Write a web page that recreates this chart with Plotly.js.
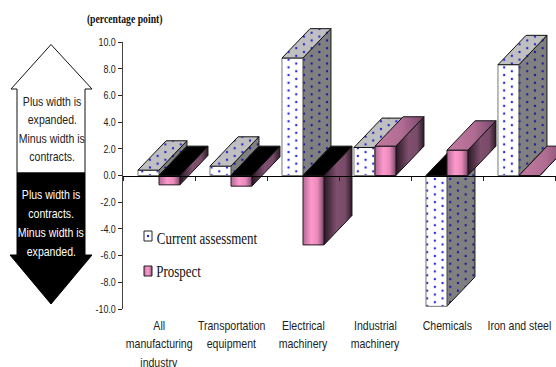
<!DOCTYPE html>
<html>
<head>
<meta charset="utf-8">
<script src="https://cdn.plot.ly/plotly-3.0.1.min.js"></script>
<style>html,body{margin:0;padding:0;background:#fff}#chart{width:556px;height:367px}</style>
</head>
<body>
<div id="chart"></div>
<script>
// Percentage-point widths by industry
const categoryLines = [
  ["All", "manufacturing", "industry"],
  ["Transportation", "equipment"],
  ["Electrical", "machinery"],
  ["Industrial", "machinery"],
  ["Chemicals"],
  ["Iron and steel"]
];
const currentAssessment = [0.4, 0.7, 8.8, 2.1, -9.8, 8.3];
const prospect = [-0.7, -0.8, -5.2, 2.2, 1.9, 0.0];
const yTickValues = [10, 8, 6, 4, 2, 0, -2, -4, -6, -8, -10];
const yTickLabels = ["10.0", "8.0", "6.0", "4.0", "2.0", "0.0", "-2.0", "-4.0", "-6.0", "-8.0", "-10.0"];
const upArrowLines = ["Plus width is", "expanded.", "Minus width is", "contracts."];
const downArrowLines = ["Plus width is", "contracts.", "Minus width is", "expanded."];

// Drawing frame in page pixels; the labelled axis spans AXIS_TOP..B, bars may rise above it
const W = 556, H = 367, L = 123, R = 556, AXIS_TOP = 42, B = 309;
const unitX = 72, unitY = (B - AXIS_TOP) / 20;
const fx = px => (px - L) / (R - L);
const fy = px => (B - px) / B;
const dataX = px => (px - L) / unitX;
const dataY = px => (B - px) / unitY - 10;

// Oblique projection of the bar depth, and the bar width, in axis units
const barW = 0.29, depthX = 0.39, depthY = 2.2;

const SANS = '"Liberation Sans",Arial,sans-serif';
const SERIF = '"Liberation Serif","Times New Roman",serif';

const dots = (bg, fg) => ({shape: '.', bgcolor: bg, fgcolor: fg, size: 8, solidity: 0.08, fgopacity: 1});
const styles = {
  current: {
    front: {fillcolor: '#fff', fillpattern: dots('#ffffff', '#2a2ae6')},
    side: {fillcolor: '#808080', fillpattern: dots('#808080', '#1c1c9a')},
    top: {fillcolor: '#c0c0c0', fillpattern: dots('#c0c0c0', '#2a2ad0')},
    edge: '#111', frontEdge: '#777'
  },
  prospect: {
    front: {fillgradient: {type: 'horizontal', colorscale: [[0, '#b06a95'], [0.4, '#ff99cc'], [0.7, '#e88ab9'], [1, '#7c4a6a']]}},
    side: {fillgradient: {type: 'horizontal', colorscale: [[0, '#2a1824'], [0.45, '#7f4f6e'], [0.75, '#7a4c69'], [1, '#2e1c28']]}},
    top: {fillgradient: {type: 'horizontal', colorscale: [[0, '#c47a9f'], [0.55, '#b06c93'], [1, '#76466a']]}},
    edge: '#111', frontEdge: '#2a1824'
  }
};

const traces = [];
function face(xs, ys, style, edge, name) {
  traces.push(Object.assign({
    type: 'scatter', mode: 'lines', x: xs.concat(xs[0]), y: ys.concat(ys[0]),
    fill: 'toself', line: {color: edge, width: 1}, hoverinfo: 'skip', showlegend: false, name: name
  }, style));
}
function bar(x0, v, st, name) {
  const x1 = x0 + barW, topY = Math.max(v, 0);
  face([x1, x1 + depthX, x1 + depthX, x1], [0, depthY, v + depthY, v], st.side, st.edge, name);
  if (v !== 0) face([x0, x1, x1, x0], [0, 0, v, v], st.front, st.frontEdge, name);
  const topStyle = v < 0 ? {fillcolor: '#000'} : st.top;
  face([x0, x1, x1 + depthX, x0 + depthX], [topY, topY, topY + depthY, topY + depthY], topStyle, st.edge, name);
}
currentAssessment.forEach((v, i) => {
  bar(i + 0.208, v, styles.current, 'Current assessment');
  bar(i + 0.5, prospect[i], styles.prospect, 'Prospect');
});

// Key swatches
function swatch(x0, x1, y0, y1, style, name) {
  face([dataX(x0), dataX(x1), dataX(x1), dataX(x0)], [dataY(y0), dataY(y0), dataY(y1), dataY(y1)], style, '#222', name);
}
swatch(144, 152, 231, 241, {fillcolor: '#fff'}, 'Current assessment');
traces.push({type: 'scatter', mode: 'markers', x: [dataX(148)], y: [dataY(236)], hoverinfo: 'skip', showlegend: false,
  marker: {size: 2.5, color: '#2a2ae0'}, name: 'Current assessment'});
swatch(144, 152, 266, 276, styles.prospect.front, 'Prospect');

// Carries the labelled y scale so that its axis is drawn
traces.push({type: 'scatter', mode: 'none', x: tickPositionsOf(yTickValues), y: yTickValues, xaxis: 'x', yaxis: 'y2',
  hoverinfo: 'skip', showlegend: false});
function tickPositionsOf(values) { return values.map(() => 0); }

const annotations = [];
function label(x, y, text, font, xref) {
  annotations.push({x: x, y: fy(y), xref: xref || 'paper', yref: 'paper', text: text, showarrow: false,
    xanchor: 'center', yanchor: 'middle', font: font, borderpad: 0});
}
categoryLines.forEach((lines, i) => lines.forEach((t, j) => {
  label(i + 0.5, 325 + j * 18.5, t, {family: SANS, size: 13, color: '#222'}, 'x');
}));
upArrowLines.forEach((t, j) => label(fx(52), 101 + j * 18.6, t, {family: SANS, size: 13, color: '#222'}));
downArrowLines.forEach((t, j) => label(fx(51), 194 + j * 19, t, {family: SANS, size: 13, color: '#fff'}));
label(fx(124.5), 19.5, '(percentage point)', {family: SERIF, size: 12, color: '#111', weight: 700});
label(fx(207), 238, 'Current assessment', {family: SERIF, size: 16, color: '#111'});
label(fx(179), 272, 'Prospect', {family: SERIF, size: 16, color: '#111'});

// Direction arrows beside the axis
const pathOf = pts => 'M' + pts.map(p => fx(p[0]) + ',' + fy(p[1])).join('L') + 'Z';
const shapes = [
  {type: 'path', xref: 'paper', yref: 'paper', layer: 'below', fillcolor: '#fff', line: {color: '#111', width: 1},
   path: pathOf([[51, 44.5], [92, 89], [85, 89], [85, 173], [17, 173], [17, 89], [11, 89]])},
  {type: 'path', xref: 'paper', yref: 'paper', layer: 'below', fillcolor: '#000', line: {color: '#000', width: 1},
   path: pathOf([[17, 173], [85, 173], [85, 255], [92, 255], [51, 304], [10, 255], [17, 255]])}
];

const tickPositions = [0, 1, 2, 3, 4, 5, 6];
const zeroFraction = 10 * unitY / B;
const layout = {
  width: W, height: H, paper_bgcolor: '#fff', plot_bgcolor: 'rgba(0,0,0,0)',
  margin: {l: L, r: W - R, t: 0, b: H - B, pad: 0},
  showlegend: false, font: {family: SANS, size: 13, color: '#222'},
  xaxis: {range: [0, (R - L) / unitX], anchor: 'free', position: zeroFraction, showgrid: false, zeroline: false,
    showline: true, linecolor: '#000', linewidth: 1, ticks: 'outside', ticklen: 4, tickcolor: '#222',
    tickmode: 'array', tickvals: tickPositions, showticklabels: false, layer: 'above traces'},
  xaxis2: {overlaying: 'x', matches: 'x', anchor: 'free', position: zeroFraction, showgrid: false, zeroline: false,
    showline: false, ticks: 'inside', ticklen: 4, tickcolor: '#222', tickmode: 'array', tickvals: tickPositions,
    showticklabels: false, layer: 'above traces'},
  // Full-height scale for the marks, sharing its pixels per unit with the labelled axis below
  yaxis: {range: [-10, B / unitY - 10], showgrid: false, zeroline: false, showline: false, ticks: '', showticklabels: false},
  yaxis2: {domain: [0, (B - AXIS_TOP) / B], range: [-10, 10], anchor: 'x', showgrid: false, zeroline: false,
    showline: true, linecolor: '#444', linewidth: 1, ticks: 'outside', ticklen: 4, tickcolor: '#222',
    tickmode: 'array', tickvals: yTickValues, ticktext: yTickLabels,
    tickfont: {family: SANS, size: 11, color: '#222'}},
  shapes: shapes, annotations: annotations
};

Plotly.newPlot('chart', traces, layout, {displayModeBar: false, staticPlot: true}).then(gd => {
  // The chart's lettering is condensed
  const squeeze = 0.81;
  gd.querySelectorAll('svg text').forEach(t => {
    const len = t.getComputedTextLength();
    if (len > 0) {
      t.setAttribute('textLength', (len * squeeze).toFixed(2));
      t.setAttribute('lengthAdjust', 'spacingAndGlyphs');
    }
  });
  // Dots sit in staggered columns, so each pattern tile holds two of them
  const cellW = 15.4, cellH = 7.7;
  gd.querySelectorAll('svg pattern').forEach(p => {
    const dot = p.querySelector('circle');
    if (!dot) return;
    p.setAttribute('width', cellW);
    p.setAttribute('height', cellH);
    p.querySelectorAll('rect').forEach(r => { r.setAttribute('width', cellW); r.setAttribute('height', cellH); });
    dot.setAttribute('r', 1.2);
    dot.setAttribute('cx', cellW / 4);
    dot.setAttribute('cy', cellH / 4);
    const second = dot.cloneNode(true);
    second.setAttribute('cx', 3 * cellW / 4);
    second.setAttribute('cy', 3 * cellH / 4);
    p.appendChild(second);
  });
});
</script>
</body>
</html>
